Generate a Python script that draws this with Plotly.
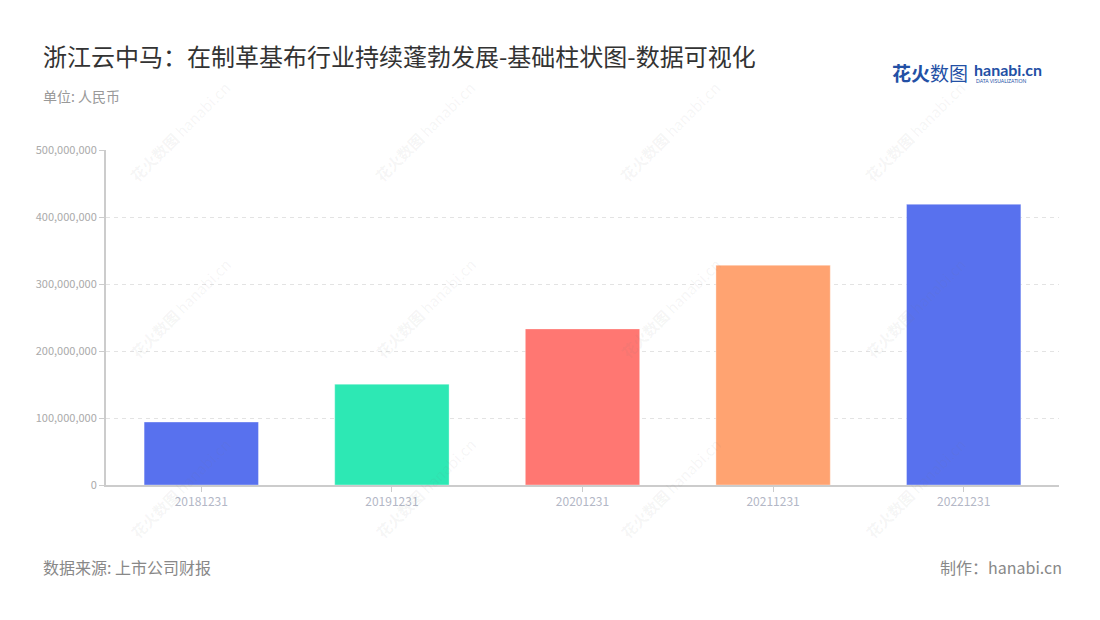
import plotly.graph_objects as go

categories = ["20181231", "20191231", "20201231", "20211231", "20221231"]
values = [94000000, 150500000, 233000000, 328000000, 419000000]
colors = ["#5871EE", "#2DE8B4", "#FF7772", "#FFA371", "#5871EE"]
tick_vals = [0, 100000000, 200000000, 300000000, 400000000, 500000000]
tick_text = ["0", "100,000,000", "200,000,000", "300,000,000", "400,000,000", "500,000,000"]

FONT = "Noto Sans CJK SC, Noto Sans, sans-serif"

# page body has an 8px margin; compensate so the picture lines up with the window
OFF = 8
W, H = 1100, 620
ml, mr, mt, mb = 106 - OFF, 41 + OFF, 150 - OFF, 135 + OFF

fig = go.Figure()
fig.add_trace(go.Bar(
    x=categories, y=values,
    marker=dict(color=colors, line=dict(color="rgba(255,255,255,0.35)", width=1)),
    width=0.6,
    hoverinfo="x+y",
))

fig.update_layout(
    width=W, height=H,
    margin=dict(l=ml, r=mr, t=mt, b=mb),
    paper_bgcolor="white", plot_bgcolor="white",
    font=dict(family=FONT),
    showlegend=False,
    xaxis=dict(
        showline=True, linecolor="#cccccc", linewidth=2,
        ticks="outside", ticklen=5, tickcolor="#cccccc", tickwidth=1,
        tickfont=dict(size=12, color="#b3b7c6"),
        showgrid=False, zeroline=False,
    ),
    yaxis=dict(
        range=[0, 500000000],
        tickvals=tick_vals, ticktext=tick_text,
        showline=True, linecolor="#cccccc", linewidth=2,
        ticks="outside", ticklen=5, tickcolor="#cccccc", tickwidth=1,
        tickfont=dict(size=11, color="#aaaaaa"),
        showgrid=True, gridcolor="#e3e3e3", griddash="4px,4px", gridwidth=1,
        zeroline=False,
    ),
)

pw = W - ml - mr
ph = H - mt - mb


def px(x):
    return (x - OFF - ml) / pw


def py(y):
    return ((H - (y - OFF)) - mb) / ph


ann = []
ann.append(dict(text="浙江云中马：在制革基布行业持续蓬勃发展-基础柱状图-数据可视化",
                x=px(41), y=py(55), xanchor="left", yanchor="middle",
                font=dict(size=24, color="#333333")))
ann.append(dict(text="单位: 人民币", x=px(41), y=py(96), xanchor="left", yanchor="middle",
                font=dict(size=14, color="#999999")))
ann.append(dict(text="数据来源: 上市公司财报", x=px(41), y=py(567), xanchor="left", yanchor="middle",
                font=dict(size=16, color="#888888")))
ann.append(dict(text="制作：hanabi.cn", x=px(1064), y=py(567), xanchor="right", yanchor="middle",
                font=dict(size=16, color="#888888")))
# Logo
ann.append(dict(text="<b>花火</b>数图", x=px(890), y=py(72), xanchor="left", yanchor="middle",
                font=dict(size=19, color="#2350A5")))
ann.append(dict(text="<b>hanabi.cn</b>", x=px(972), y=py(69), xanchor="left", yanchor="middle",
                font=dict(size=16, color="#2350A5", family="Lato, sans-serif")))
ann.append(dict(text="DATA VISUALIZATION", x=px(974), y=py(81), xanchor="left", yanchor="middle",
                font=dict(size=5, color="#2350A5", family="Lato, sans-serif")))

# Watermarks
wm_x = [180, 425, 670, 915]
wm_y = [132, 308, 488]
for cx in wm_x:
    for cy in wm_y:
        ann.append(dict(text="<b>花火数图</b> hanabi.cn", x=px(cx), y=py(cy),
                        textangle=-45, xanchor="center", yanchor="middle",
                        font=dict(size=15, color="rgba(120,120,120,0.07)")))

for a in ann:
    a["xref"] = "paper"
    a["yref"] = "paper"
    a["showarrow"] = False

fig.update_layout(annotations=ann)
fig.write_html("out.html")
